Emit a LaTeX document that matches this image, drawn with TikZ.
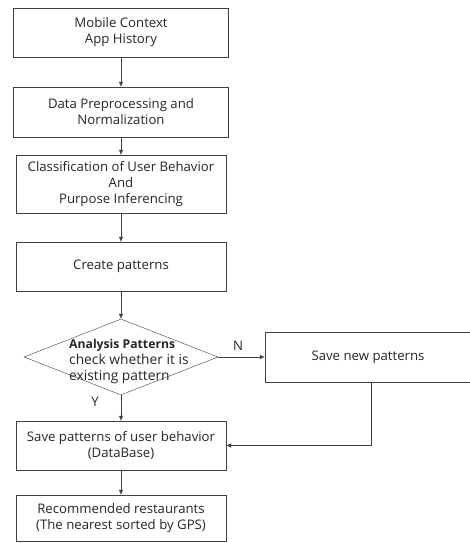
\documentclass[tikz,border=0pt]{standalone}
\usepackage{fontspec}
\setmainfont{Open Sans}
\usetikzlibrary{shapes.geometric,arrows.meta}
\begin{document}
\begin{tikzpicture}[
		x=1pt, y=-1pt,
		font=\fontsize{13.2}{16}\selectfont,
		box/.style={draw=black!75, rectangle, minimum width=210pt, minimum height=49pt, align=center, inner sep=1pt, text=black!85},
		decision/.style={draw=black!75, diamond, minimum width=194pt, minimum height=76pt, inner sep=0pt},
		flow/.style={draw=black!75, -{Latex[length=5pt,width=4.5pt]}}
	]
	\useasboundingbox (0,0) rectangle (470,543);
	% main column
	\node[box, minimum width=215pt] (ctx) at (121,32.5) {Mobile Context\\App History};
	\node[box, minimum width=215pt, minimum height=50pt] (prep) at (121,112) {Data Preprocessing and\\Normalization};
	\node[box, minimum height=58pt] (cls) at (121,184) {Classification of User Behavior\\And\\Purpose Inferencing};
	\node[box] (create) at (121,266.5) {Create patterns};
	\node[decision] (dec) at (121,357) {};
	\node[anchor=west, align=left, text=black!85, font=\fontsize{13.8}{16}\selectfont, inner sep=0pt] (dectext) at (69,362) {{\fontsize{12.2}{16}\selectfont\textbf{Analysis Patterns}}\\check whether it is\\existing pattern};
	\node[box, minimum width=206pt, minimum height=50pt] (savenew) at (368,357) {Save new patterns};
	\node[box] (savepat) at (121,445.5) {Save patterns of user behavior\\(DataBase)};
	\node[box, minimum height=46pt] (rec) at (121,518) {Recommended restaurants\\(The nearest sorted by GPS)};
	% labels
	\node[text=black!85] (nlab) at (238,346) {N};
	\node[text=black!85] (ylab) at (95,402) {Y};
	% connectors
	\draw[flow] (ctx) -- (prep);
	\draw[flow] (prep) -- (cls);
	\draw[flow] (cls) -- (create);
	\draw[flow] (create) -- (dec);
	\draw[flow] (dec.south) -- (savepat);
	\draw[flow] (dec.east) -- (savenew);
	\draw[flow] ([xshift=3pt]savenew.south) |- (savepat.east);
	\draw[flow] (savepat) -- (rec);
\end{tikzpicture}
\end{document}
